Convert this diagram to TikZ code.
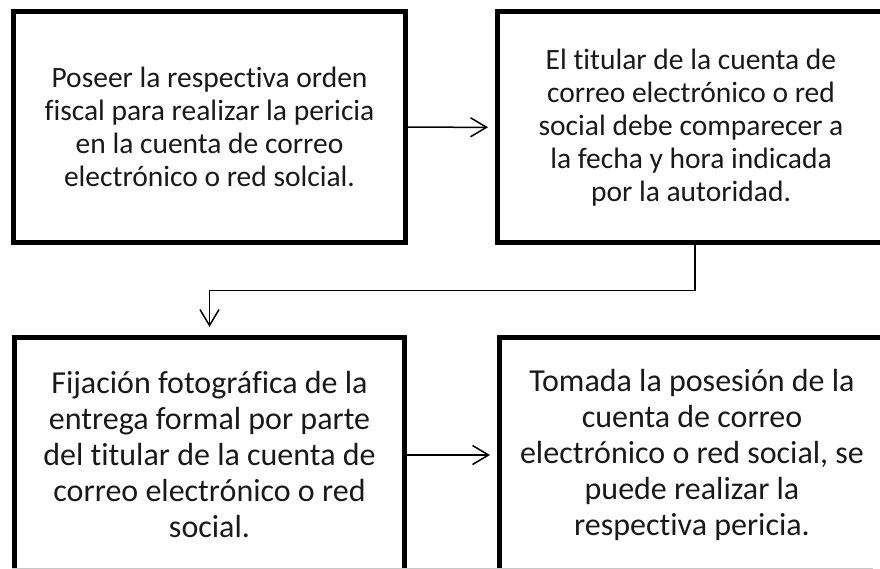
\documentclass[tikz,border=0pt]{standalone}
\usepackage{fontspec}
\setmainfont[Ligatures=NoCommon]{Carlito}
\usetikzlibrary{arrows.meta}

\begin{document}
\begin{tikzpicture}[x=1pt,y=-1pt,->,>={Straight Barb[length=16pt,width=19pt]},
                    shorten >=7pt,line width=1.5pt]
  \tikzstyle{paso}=[draw,line width=5pt,align=center,inner sep=0pt,text=black!90]
  \tikzstyle{arriba}=[paso,minimum height=231pt,font=\fontsize{29.5}{33}\selectfont]
  \tikzstyle{abajo}=[paso,minimum height=235pt,font=\fontsize{32}{36}\selectfont]

  \useasboundingbox (0,0) rectangle (880,569);

  \node[arriba,minimum width=392pt] (P1) at (209.5,127)
    {Poseer la respectiva orden\\fiscal para realizar la pericia\\en la cuenta de correo\\electrónico o red solcial.};
  \node[arriba,minimum width=387pt] (P2) at (691,127.5)
    {El titular de la cuenta de\\correo electrónico o red\\social debe comparecer a\\la fecha y hora indicada\\por la autoridad.};
  \node[abajo,minimum width=390pt] (P3) at (209.5,455)
    {Fijación fotográfica de la\\entrega formal por parte\\del titular de la cuenta de\\correo electrónico o red\\social.};
  \node[abajo,minimum width=385pt] (P4) at (692,455)
    {Tomada la posesión de la\\cuenta de correo\\electrónico o red social, se\\puede realizar la\\respectiva pericia.};

  \path (P1) edge (P2)
        (P3) edge (P4);
  \draw[shorten >=8pt] ([xshift=4pt]P2.south) -- ++(0,45) -| (P3.north);
%  borde inferior
  \draw[-,gray!45,line width=1pt] (12,568) -- (880,568);
\end{tikzpicture}
\end{document}
